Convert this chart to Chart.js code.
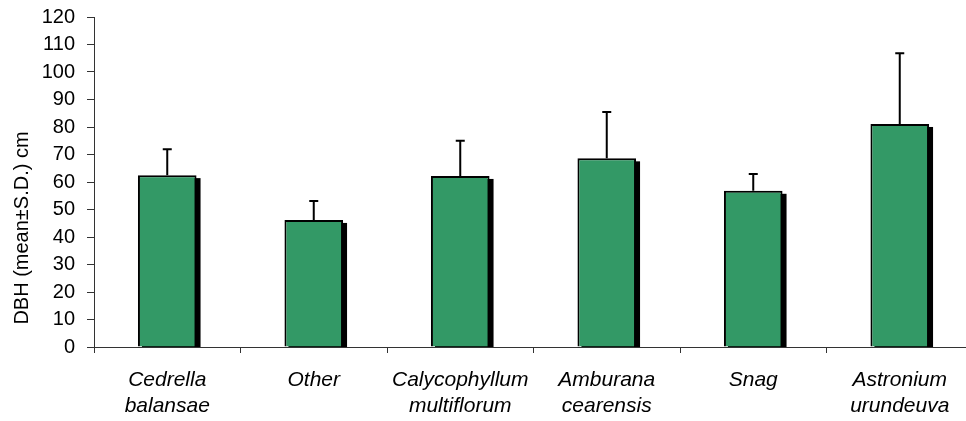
<!DOCTYPE html>
<html>
<head>
<meta charset="utf-8">
<script src="https://cdn.jsdelivr.net/npm/chart.js@4.4.1/dist/chart.umd.min.js"></script>
<style>
  html, body { margin: 0; padding: 0; background: #fff; overflow: hidden; }
  #wrap { width: 966px; height: 421px; overflow: hidden; }
  canvas { display: block; }
</style>
</head>
<body>
<div id="wrap"><canvas id="c" width="974" height="421"></canvas></div>
<script>
// Species (two-line italic labels)
const species = [
  ['Cedrella', 'balansae'],
  ['Other'],
  ['Calycophyllum', 'multiflorum'],
  ['Amburana', 'cearensis'],
  ['Snag'],
  ['Astronium', 'urundeuva']
];
// Mean DBH (cm)
const meanDbh = [62.5, 46.2, 62.2, 68.6, 56.8, 81.1];
// Standard deviation of DBH (cm)
const sdDbh = [9.4, 6.9, 12.8, 16.9, 6.1, 25.7];
// Y axis ticks
const yTicks = [0, 10, 20, 30, 40, 50, 60, 70, 80, 90, 100, 110, 120];

const FONT = "'Liberation Sans', Arial, sans-serif";

// Offset black shadow behind each bar
const barShadow = {
  id: 'barShadow',
  beforeDatasetsDraw(chart) {
    const ctx = chart.ctx;
    const area = chart.chartArea;
    const meta = chart.getDatasetMeta(0);
    ctx.save();
    ctx.beginPath();
    ctx.rect(area.left, area.top, area.right - area.left, area.bottom - area.top);
    ctx.clip();
    ctx.fillStyle = '#000';
    meta.data.forEach(bar => {
      const p = bar.getProps(['x', 'y', 'base', 'width'], true);
      ctx.fillRect(p.x - p.width / 2 + 4, p.y + 3, p.width, p.base - p.y);
    });
    ctx.restore();
  }
};

// Upper standard-deviation whiskers
const errorBars = {
  id: 'errorBars',
  afterDatasetsDraw(chart) {
    const ctx = chart.ctx;
    const yScale = chart.scales.y;
    const meta = chart.getDatasetMeta(0);
    ctx.save();
    ctx.strokeStyle = '#000';
    ctx.lineWidth = 2;
    meta.data.forEach((bar, i) => {
      const p = bar.getProps(['x', 'y'], true);
      const yTop = yScale.getPixelForValue(meanDbh[i] + sdDbh[i]);
      ctx.beginPath();
      ctx.moveTo(p.x, p.y);
      ctx.lineTo(p.x, yTop);
      ctx.moveTo(p.x - 4.5, yTop);
      ctx.lineTo(p.x + 4.5, yTop);
      ctx.stroke();
    });
    ctx.restore();
  }
};

// Rotated y-axis caption
const yCaption = {
  id: 'yCaption',
  afterDraw(chart) {
    const ctx = chart.ctx;
    ctx.save();
    ctx.translate(22, 228);
    ctx.rotate(-Math.PI / 2);
    ctx.font = '20px ' + FONT;
    ctx.fillStyle = '#000';
    ctx.textAlign = 'center';
    ctx.textBaseline = 'middle';
    ctx.fillText('DBH (mean±S.D.) cm', 0, 0);
    ctx.restore();
  }
};

new Chart(document.getElementById('c'), {
  type: 'bar',
  data: {
    labels: species,
    datasets: [{
      data: meanDbh,
      backgroundColor: '#339966',
      borderColor: '#000',
      borderWidth: 2,
      borderSkipped: 'bottom',
      categoryPercentage: 1,
      barPercentage: 0.4
    }]
  },
  options: {
    responsive: false,
    animation: false,
    events: [],
    layout: { padding: { top: 17, right: 1, left: 0, bottom: 0 } },
    plugins: {
      legend: { display: false },
      tooltip: { enabled: false }
    },
    scales: {
      x: {
        offset: true,
        grid: {
          offset: true,
          drawOnChartArea: false,
          drawTicks: true,
          tickLength: 6,
          color: '#333'
        },
        border: { color: '#333', width: 1 },
        ticks: {
          color: '#000',
          padding: 15,
          maxRotation: 0,
          autoSkip: false,
          font: { family: FONT, size: 21, style: 'italic', lineHeight: 1.2 }
        },
        afterFit(scale) {
          scale.height = 74;
          scale.paddingLeft = 0;
          scale.paddingRight = 0;
        }
      },
      y: {
        min: 0,
        max: 120,
        afterBuildTicks(scale) { scale.ticks = yTicks.map(v => ({ value: v })); },
        grid: {
          drawOnChartArea: false,
          drawTicks: true,
          tickLength: 7,
          color: '#333'
        },
        border: { color: '#333', width: 1 },
        ticks: {
          color: '#000',
          padding: 12,
          autoSkip: false,
          font: { family: FONT, size: 20 }
        },
        afterFit(scale) {
          scale.width = 94;
          scale.paddingTop = 0;
          scale.paddingBottom = 0;
        }
      }
    }
  },
  plugins: [barShadow, errorBars, yCaption]
});
</script>
</body>
</html>
